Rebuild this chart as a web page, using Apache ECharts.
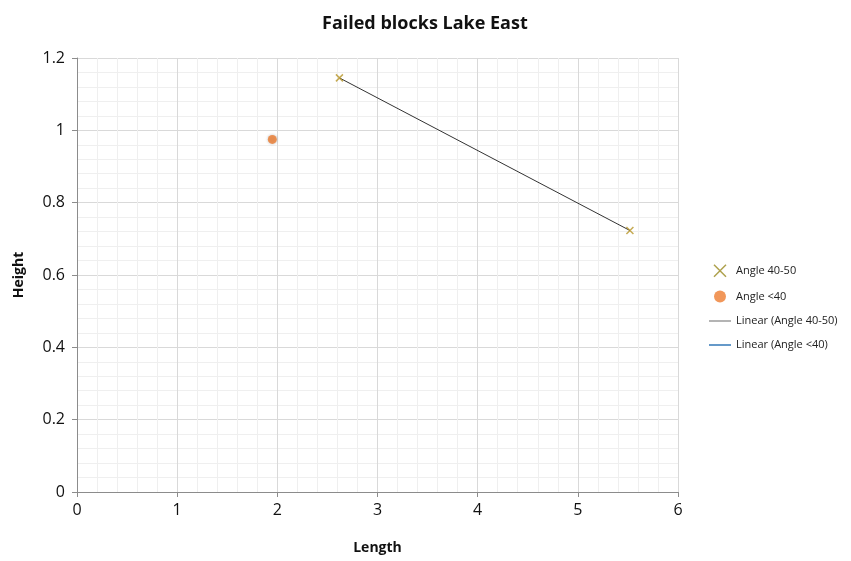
<!DOCTYPE html>
<html><head><meta charset="utf-8">
<script src="https://cdn.jsdelivr.net/npm/echarts@6/dist/echarts.min.js"></script>
<style>html,body{margin:0;padding:0;background:#fff}#c{width:851px;height:561px}</style>
</head><body><div id="c"></div>
<script>
const titleText = 'Failed blocks Lake East';
const xName = 'Length';
const yName = 'Height';
const seriesNames = ['Angle 40-50', 'Angle <40', 'Linear (Angle 40-50)', 'Linear (Angle <40)'];
const angle4050X = [2.62, 5.52];
const angle4050Y = [1.145, 0.723];
const angleLt40X = [1.95];
const angleLt40Y = [0.975];

function linFit(xs, ys) {
  const n = xs.length;
  if (n < 2) return [];
  const mx = xs.reduce((a, b) => a + b, 0) / n;
  const my = ys.reduce((a, b) => a + b, 0) / n;
  let sxy = 0, sxx = 0;
  for (let i = 0; i < n; i++) { sxy += (xs[i] - mx) * (ys[i] - my); sxx += (xs[i] - mx) ** 2; }
  const b = sxy / sxx, a = my - b * mx;
  const x0 = Math.min(...xs), x1 = Math.max(...xs);
  return [[x0, a + b * x0], [x1, a + b * x1]];
}

const pts4050 = angle4050X.map((x, i) => [x, angle4050Y[i]]);
const ptsLt40 = angleLt40X.map((x, i) => [x, angleLt40Y[i]]);
const xPath = 'path://M0,0L10,10M10,0L0,10';
const font = '"Open Sans", "Noto Sans", sans-serif';

const chart = echarts.init(document.getElementById('c'), null, {renderer: 'canvas'});
chart.setOption({
  animation: false,
  backgroundColor: '#fff',
  textStyle: {fontFamily: font},
  title: {text: titleText, left: 317, top: 10,
    textStyle: {fontSize: 18, fontWeight: 'bold', color: '#111', fontFamily: font}},
  grid: {left: 77, right: 173, top: 58, bottom: 69},
  legend: {
    orient: 'vertical', left: 704, top: 259, itemGap: 13, itemWidth: 22, itemHeight: 12,
    textStyle: {fontSize: 11, color: '#222', fontFamily: font},
    data: [
      {name: seriesNames[0], icon: xPath, itemStyle: {color: '#9a8a20', borderColor: '#9a8a20', borderWidth: 1.5}},
      {name: seriesNames[1], icon: 'circle'},
      {name: seriesNames[2], icon: 'path://M0,5.5L30,5.5L30,6.5L0,6.5Z', itemStyle: {color: '#333'}},
      {name: seriesNames[3], icon: 'path://M0,5L30,5L30,7L0,7Z', itemStyle: {color: '#2e75b6'}}
    ]
  },
  xAxis: {
    type: 'value', min: 0, max: 6, interval: 1,
    name: xName, nameLocation: 'middle', nameGap: 49,
    nameTextStyle: {fontSize: 14, fontWeight: 'bold', color: '#111'},
    axisLine: {show: true, onZero: false, lineStyle: {color: '#8c8c8c', width: 1}},
    axisTick: {show: true, length: 5, lineStyle: {color: '#8c8c8c'}},
    axisLabel: {fontSize: 16, color: '#111', margin: 10},
    splitLine: {show: true, lineStyle: {color: '#d9d9d9', width: 1}},
    minorTick: {show: false, splitNumber: 5},
    minorSplitLine: {show: true, lineStyle: {color: '#efefef', width: 1}}
  },
  yAxis: {
    type: 'value', min: 0, max: 1.2, interval: 0.2,
    name: yName, nameLocation: 'middle', nameGap: 51, nameRotate: 90,
    nameTextStyle: {fontSize: 14, fontWeight: 'bold', color: '#111'},
    axisLine: {show: true, onZero: false, lineStyle: {color: '#8c8c8c', width: 1}},
    axisTick: {show: true, length: 5, lineStyle: {color: '#8c8c8c'}},
    axisLabel: {fontSize: 16, color: '#111', margin: 12},
    splitLine: {show: true, lineStyle: {color: '#d9d9d9', width: 1}},
    minorTick: {show: false, splitNumber: 5},
    minorSplitLine: {show: true, lineStyle: {color: '#efefef', width: 1}}
  },
  series: [
    {name: seriesNames[2], type: 'line', data: linFit(angle4050X, angle4050Y), symbol: 'none',
      lineStyle: {color: '#333', width: 1}, itemStyle: {color: '#333'}, z: 2},
    {name: seriesNames[3], type: 'line', data: linFit(angleLt40X, angleLt40Y), symbol: 'none',
      lineStyle: {color: '#2e75b6', width: 2}, itemStyle: {color: '#2e75b6'}, z: 2},
    {name: seriesNames[0], type: 'scatter', data: pts4050, symbol: xPath, symbolSize: 7,
      itemStyle: {color: '#9a8a20', borderColor: '#b8962a', borderWidth: 1.5}, z: 3},
    {name: seriesNames[1], type: 'scatter', data: ptsLt40, symbol: 'circle', symbolSize: 9,
      itemStyle: {color: '#ed7d31', shadowBlur: 3, shadowColor: 'rgba(0,0,0,0.3)'}, z: 3}
  ]
});
</script></body></html>
